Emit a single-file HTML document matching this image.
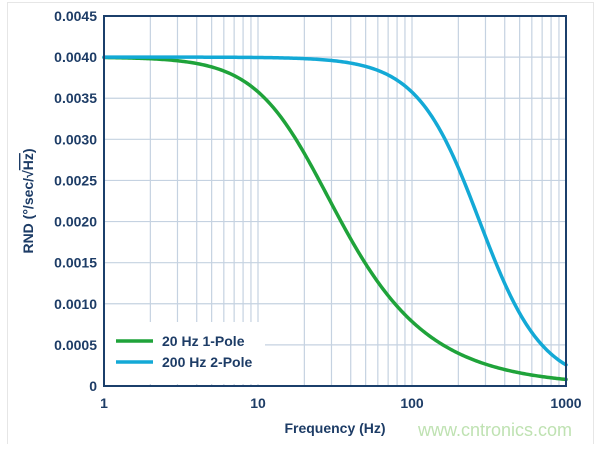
<!DOCTYPE html>
<html><head><meta charset="utf-8"><style>
body{margin:0;background:#fff;}
svg text{font-family:"Liberation Sans",Arial,sans-serif;font-weight:bold;fill:#1d3c66;}
</style></head><body>
<svg id="s" width="600" height="444" xmlns="http://www.w3.org/2000/svg">
<rect x="7.5" y="2.5" width="586" height="450" fill="none" stroke="#e6e6e6"/>
<g id="grid" stroke="#c5d2e1" stroke-width="1.2"></g>
<rect x="105" y="322" width="160" height="62" fill="#fff"/>
<g id="curves" fill="none" stroke-width="3.5" stroke-linecap="round"></g>
<rect x="104" y="16" width="462" height="370" fill="none" stroke="#1b3f6b" stroke-width="2"/>
<g id="lab" font-size="14"></g>
<text x="335" y="433" font-size="14" text-anchor="middle">Frequency (Hz)</text>
<text transform="translate(33,201) rotate(-90)" font-size="14" text-anchor="middle">RND (°/sec/√<tspan text-decoration="overline">Hz</tspan>)</text>
<line x1="116" y1="341" x2="153" y2="341" stroke="#1fa33a" stroke-width="3.5"/>
<line x1="116" y1="362" x2="153" y2="362" stroke="#13a9d6" stroke-width="3.5"/>
<text x="162" y="346" font-size="14">20 Hz 1-Pole</text>
<text x="162" y="367" font-size="14">200 Hz 2-Pole</text>
<text x="418" y="436" font-size="18" style="font-weight:normal;fill:#bfe2b2">www.cntronics.com</text>
</svg>
<script>
const X=f=>104+Math.log10(f)*154, Y=v=>386-v/0.0045*370;
const g=document.getElementById('grid'),l=document.getElementById('lab'),ns="http://www.w3.org/2000/svg";
function el(p,t,a){const e=document.createElementNS(ns,t);for(const k in a)e.setAttribute(k,a[k]);p.appendChild(e);return e;}
for(let d=1;d<1000;d*=10)for(let k=1;k<10;k++){const x=X(d*k);if(k>1)el(g,'line',{x1:x,x2:x,y1:16,y2:386});}
[10,100].forEach(f=>el(g,'line',{x1:X(f),x2:X(f),y1:16,y2:386}));
for(let i=1;i<9;i++){const y=Y(i*0.0005);el(g,'line',{x1:104,x2:566,y1:y,y2:y});}
for(let i=0;i<=9;i++){const t=el(l,'text',{x:97,y:Y(i*0.0005)+5,'text-anchor':'end'});t.textContent=i==0?'0':(i*0.0005).toFixed(4);}
[1,10,100,1000].forEach(f=>{const t=el(l,'text',{x:X(f),y:408,'text-anchor':'middle'});t.textContent=f;});
function poly(fn,c){let d='';for(let e=0;e<=3.0001;e+=0.01){const f=Math.pow(10,e);d+=(d?' L':'M')+X(f).toFixed(2)+','+Y(fn(f)).toFixed(2);}
el(document.getElementById('curves'),'path',{d:d,stroke:c});}
poly(f=>0.004/Math.sqrt(1+(f/20)**2),'#1fa33a');
poly(f=>{const r=f/260,Q=0.53;return 0.004/Math.sqrt((1-r*r)**2+(r/Q)**2);},'#13a9d6');
</script>
</body></html>
